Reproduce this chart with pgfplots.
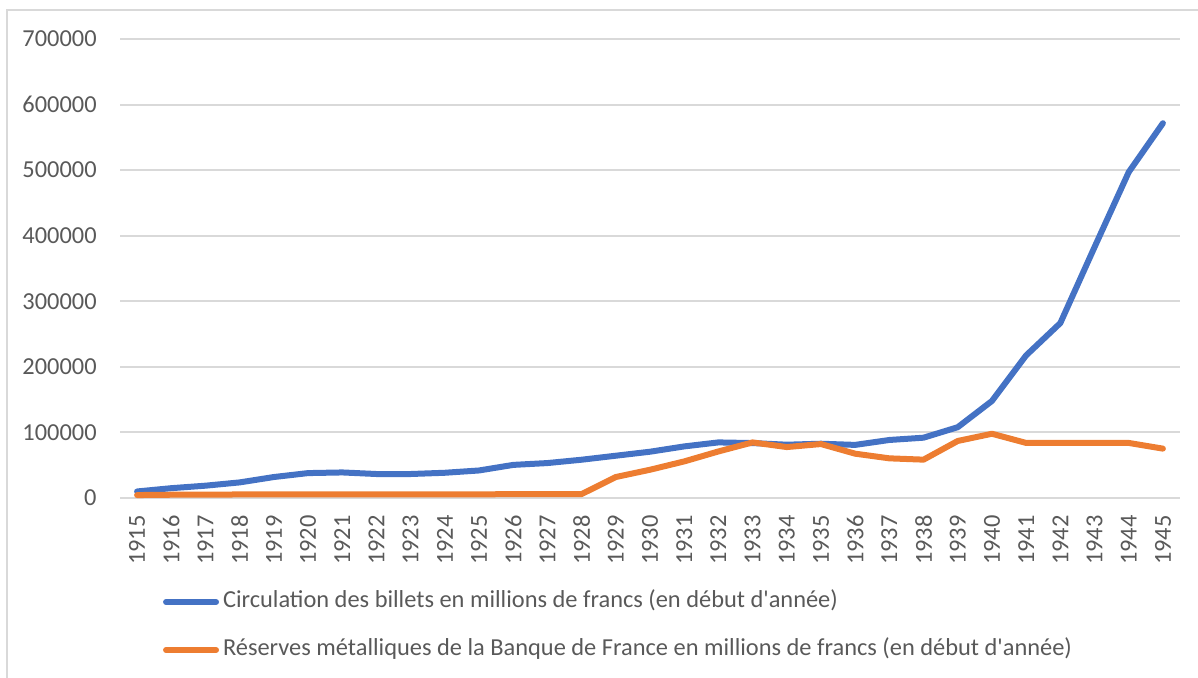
\documentclass[border=0pt]{standalone}
\usepackage{fontspec}
\setmainfont{Carlito}[Ligatures=TeXOff]
\usepackage{pgfplots}
\pgfplotsset{compat=1.18}
\usepackage{pgfplotstable}
\definecolor{cblue}{HTML}{4472C4}
\definecolor{corange}{HTML}{ED7D31}
\definecolor{cgrid}{HTML}{D9D9D9}
\definecolor{ctext}{HTML}{595959}
\pgfplotstableread{
year circ res
1915 10000 4500
1916 15000 5000
1917 18800 5200
1918 23800 5400
1919 32000 5500
1920 38000 5500
1921 39000 5500
1922 36600 5500
1923 36600 5500
1924 38500 5500
1925 42000 5500
1926 50500 6000
1927 53300 6000
1928 58400 6000
1929 64500 32000
1930 70600 43100
1931 78700 55800
1932 84800 71000
1933 83800 84800
1934 81300 77700
1935 82800 82300
1936 81000 67600
1937 88500 60500
1938 92000 58500
1939 108000 87000
1940 148000 98000
1941 217500 84000
1942 266800 84000
1943 382600 84000
1944 497000 84000
1945 571600 75300
}\datatable
\begin{document}
\fontsize{12.2}{14.5}\selectfont
\begin{tikzpicture}
\useasboundingbox (0,0) rectangle (599pt,338.5pt);
\draw[cgrid, line width=1pt] (3.5pt,-10pt) -- (3.5pt,333.5pt) -- (610pt,333.5pt);
\begin{axis}[
  at={(60pt,89.5pt)}, anchor=south west,
  scale only axis, width=530pt, height=229.5pt,
  xmin=1914.5, xmax=1945.5, ymin=0, ymax=700000,
  xtick={1915,1916,...,1945},
  ytick={0,100000,...,700000},
  scaled y ticks=false,
  axis line style={draw=none},
  major tick length=0pt,
  ymajorgrids, grid style={cgrid, line width=1pt},
  /pgf/number format/fixed, /pgf/number format/1000 sep={},
  /pgf/number format/assume math mode=true,
  ticklabel style={font=\fontsize{12.2}{14.5}\selectfont, text=ctext},
  yticklabel style={inner sep=0pt, anchor=east, xshift=-11.5pt},
  xticklabel style={inner sep=0pt, rotate=90, anchor=east},
  xticklabel shift=8.5pt,
  legend style={at={(axis description cs:0.0406,-0.2026)}, anchor=north west,
    draw=none, fill=none, inner sep=0pt, outer sep=0pt,
    nodes={inner sep=0pt, text height=8pt, text depth=3pt, text=ctext, font=\fontsize{12.2}{14.5}\selectfont},
    column sep=2pt, row sep=13pt},
  legend cell align=left,
  legend image code/.code={\draw[#1, line cap=round] (1.5pt,0pt) -- (26.5pt,0pt);},
  clip=false,
]
\addplot[cblue, line width=3pt, line join=round, line cap=round] table[x=year, y=circ] {\datatable};
\addlegendentry{Circulation des billets en millions de francs (en début d'année)}
\addplot[corange, line width=3pt, line join=round, line cap=round] table[x=year, y=res] {\datatable};
\addlegendentry{Réserves métalliques de la Banque de France en millions de francs (en début d'année)}
\end{axis}
\end{tikzpicture}
\end{document}
